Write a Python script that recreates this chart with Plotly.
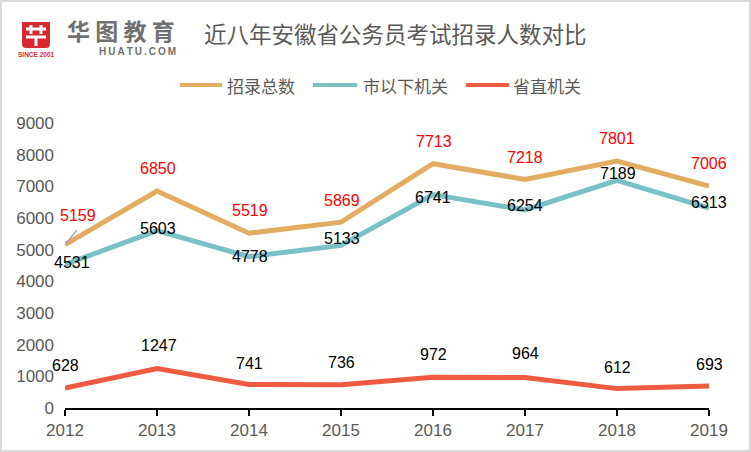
import plotly.graph_objects as go

# ---------------- data ----------------
years = [2012, 2013, 2014, 2015, 2016, 2017, 2018, 2019]
total_hires = [5159, 6850, 5519, 5869, 7713, 7218, 7801, 7006]      # 招录总数
city_below = [4531, 5603, 4778, 5133, 6741, 6254, 7189, 6313]       # 市以下机关
provincial = [628, 1247, 741, 736, 972, 964, 612, 693]              # 省直机关
y_ticks = [0, 1000, 2000, 3000, 4000, 5000, 6000, 7000, 8000, 9000]
series_names = ["招录总数", "市以下机关", "省直机关"]
title_text = "近八年安徽省公务员考试招录人数对比"

# ---------------- styles ----------------
C_TOTAL = "#E2AD62"
C_CITY = "#79C1C4"
C_PROV = "#EF5B40"
GRAY = "#595959"
NUM_FONT = "Liberation Sans, Arial, sans-serif"
CJK_FONT = "Noto Sans CJK SC, sans-serif"

W, H = 751, 452
L, R, T, B = 65, 42, 123, 44
PW, PH = W - L - R, H - T - B


def px(x):
    return (x - L) / PW


def py(y):
    return (H - B - y) / PH


fig = go.Figure()
for vals, col, name in [(total_hires, C_TOTAL, series_names[0]),
                        (city_below, C_CITY, series_names[1]),
                        (provincial, C_PROV, series_names[2])]:
    fig.add_trace(go.Scatter(x=years, y=vals, mode="lines", name=name,
                             line=dict(color=col, width=5),
                             cliponaxis=False, showlegend=False,
                             hoverinfo="x+y+name"))

ann = []
# label offsets (pixels) per series
off_total = [(13, 29), (1, 22.5), (1, 23), (1, 22), (1, 22.5), (0, 22), (0, 22), (0, 22.5)]
off_city = [(7, 2), (1, 2), (1, 0), (1, 6.5), (0, -2.5), (0, 4), (0.5, 6.5), (0, 6)]
off_prov = [(0, 23), (2, 23.5), (0.5, 21.5), (0, 22), (0, 23), (0, 23.5), (0, 21.5), (0, 22)]

for yr, v, (dx, dy) in zip(years, total_hires, off_total):
    ann.append(dict(x=yr, y=v, text=str(v), showarrow=False, xshift=dx, yshift=dy,
                    font=dict(family=NUM_FONT, size=16, color="#FF0000")))
for yr, v, (dx, dy) in zip(years, city_below, off_city):
    ann.append(dict(x=yr, y=v, text=str(v), showarrow=False, xshift=dx, yshift=dy,
                    font=dict(family=NUM_FONT, size=16, color="#000000")))
for yr, v, (dx, dy) in zip(years, provincial, off_prov):
    ann.append(dict(x=yr, y=v, text=str(v), showarrow=False, xshift=dx, yshift=dy,
                    font=dict(family=NUM_FONT, size=16, color="#000000")))

# leader line for first total label
ann.append(dict(x=years[0], y=total_hires[0], text="", showarrow=True, arrowhead=0,
                ax=13, ay=-16, arrowwidth=1.5, arrowcolor="#A6A6A6", standoff=0))

# title
ann.append(dict(xref="paper", yref="paper", x=px(202), y=py(33), xanchor="left",
                yanchor="middle", text=title_text, showarrow=False,
                font=dict(family=CJK_FONT, size=22.5, color=GRAY)))
# logo texts
ann.append(dict(xref="paper", yref="paper", x=px(121), y=py(30), xanchor="center",
                yanchor="middle", text="<b>华 图 教 育</b>", showarrow=False,
                font=dict(family=CJK_FONT, size=23, color="#707070")))
ann.append(dict(xref="paper", yref="paper", x=px(137), y=py(52), xanchor="center",
                yanchor="middle", text="<b>H\u2009U\u2009A\u2009T\u2009U\u2009.\u2009C\u2009O\u2009M</b>",
                showarrow=False, font=dict(family=NUM_FONT, size=10, color="#707070")))
ann.append(dict(xref="paper", yref="paper", x=px(36), y=py(54.5), xanchor="center",
                yanchor="middle", text="<b>SINCE 2001</b>", showarrow=False,
                font=dict(family=NUM_FONT, size=6.5, color="#D7282F")))

# legend (manual)
legend_items = [(180, 222, 225, C_TOTAL), (313, 357, 361, C_CITY), (466, 509, 511, C_PROV)]
shapes = []
for (x0, x1, tx, col), name in zip(legend_items, series_names):
    shapes.append(dict(type="line", xref="paper", yref="paper", x0=px(x0), x1=px(x1),
                       y0=py(85), y1=py(85), line=dict(color=col, width=4)))
    ann.append(dict(xref="paper", yref="paper", x=px(tx), y=py(85), xanchor="left",
                    yanchor="middle", text=name, showarrow=False,
                    font=dict(family=CJK_FONT, size=17, color=GRAY)))

# logo shield
shapes.append(dict(type="path", xref="paper", yref="paper",
                   path=(f"M {px(22)},{py(22)} L {px(50)},{py(22)} L {px(50)},{py(44)} "
                         f"Q {px(50)},{py(48)} {px(46)},{py(48)} L {px(26)},{py(48)} "
                         f"Q {px(22)},{py(48)} {px(22)},{py(44)} Z"),
                   fillcolor="#D7282F", line=dict(width=0)))
for (x0, y0, x1, y1) in [(26, 29, 46, 29), (31, 25, 31, 34), (41, 25, 41, 34),
                         (26, 37, 46, 37), (36, 37, 36, 46)]:
    shapes.append(dict(type="line", xref="paper", yref="paper", x0=px(x0), y0=py(y0),
                       x1=px(x1), y1=py(y1), line=dict(color="white", width=3)))

# outer frame
shapes.append(dict(type="rect", xref="paper", yref="paper", x0=px(1), y0=py(1),
                   x1=px(750), y1=py(451), line=dict(color="#D9D9D9", width=2),
                   fillcolor="rgba(0,0,0,0)", layer="above"))

fig.update_layout(
    width=W, height=H,
    margin=dict(l=L, r=R, t=T, b=B, pad=0),
    paper_bgcolor="white", plot_bgcolor="white",
    showlegend=False,
    annotations=ann, shapes=shapes,
    xaxis=dict(range=[years[0], years[-1]], tickvals=years, showgrid=False,
               showline=True, linecolor="black", linewidth=2,
               ticks="outside", ticklen=6, tickwidth=2, tickcolor="black",
               tickfont=dict(family=NUM_FONT, size=17, color=GRAY),
               zeroline=False, fixedrange=True),
    yaxis=dict(range=[0, 9000], tickvals=y_ticks, showgrid=False, showline=False,
               zeroline=False, ticks="", ticklabelstandoff=10,
               tickfont=dict(family=NUM_FONT, size=17, color=GRAY), fixedrange=True),
)

fig.write_html("out.html", config={"displayModeBar": False},
               post_script="document.body.style.margin='0';document.body.style.overflow='hidden';")
